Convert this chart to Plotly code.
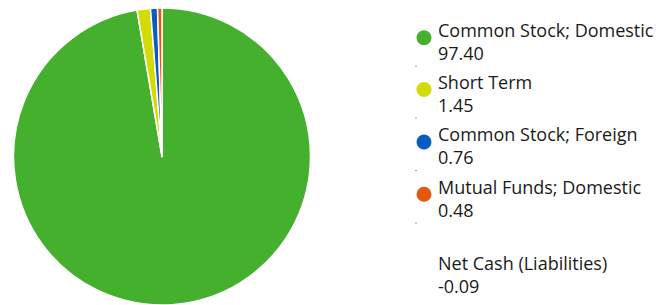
import plotly.graph_objects as go

labels = ["Common Stock; Domestic", "Short Term", "Common Stock; Foreign", "Mutual Funds; Domestic"]
values = [97.40, 1.45, 0.76, 0.48]
colors = ["#45AF2E", "#D2DC00", "#0A5CC0", "#E4570C"]
extra_label = "Net Cash (Liabilities)"
extra_value = -0.09

OFF = 8  # page body margin
W, H = 662 - OFF, 305 - OFF


def px(x):
    return (x - OFF) / W


def py(y):
    return 1 - (y - OFF) / H


R = H / 2
fig = go.Figure()
fig.add_trace(go.Pie(
    labels=labels, values=values, sort=False, direction="clockwise", rotation=0,
    marker=dict(colors=colors, line=dict(color="white", width=1.5)),
    textinfo="none", hoverinfo="label+value", showlegend=False,
    domain=dict(x=[px(162 - R), px(162 + R)], y=[0, 1]),
))

font = dict(family="Open Sans, sans-serif", size=18, color="#1a1a1a")
text_x = px(437)
circle_x = 424
baselines = [36.7, 88.5, 141.0, 193.3]
line_gap = 22.6


def add_item(label, value, baseline):
    fig.add_annotation(x=text_x, y=py(baseline + line_gap / 2 - 6.5), xref="paper", yref="paper",
                       xanchor="left", yanchor="middle", text=f"{label}<br>{value:.2f}",
                       showarrow=False, font=font, align="left", borderpad=0)


for lab, val, col, b in zip(labels, values, colors, baselines):
    add_item(lab, val, b)
    cy = b + 1.0
    fig.add_shape(type="circle", xref="paper", yref="paper", xsizemode="pixel", ysizemode="pixel",
                  xanchor=px(circle_x), yanchor=py(cy),
                  x0=-7.5, x1=7.5, y0=-7.5, y1=7.5, fillcolor=col, line=dict(width=0))
    dy = b + line_gap + 7.5
    fig.add_shape(type="rect", xref="paper", yref="paper", xsizemode="pixel", ysizemode="pixel",
                  xanchor=px(415.5), yanchor=py(dy),
                  x0=0, x1=1, y0=0, y1=1, fillcolor="#333333", line=dict(width=0))

add_item(extra_label, extra_value, 269.3)

fig.update_layout(width=W, height=H, margin=dict(l=0, r=0, t=0, b=0),
                  paper_bgcolor="white", plot_bgcolor="white", showlegend=False)

fig.write_html("out.html")
